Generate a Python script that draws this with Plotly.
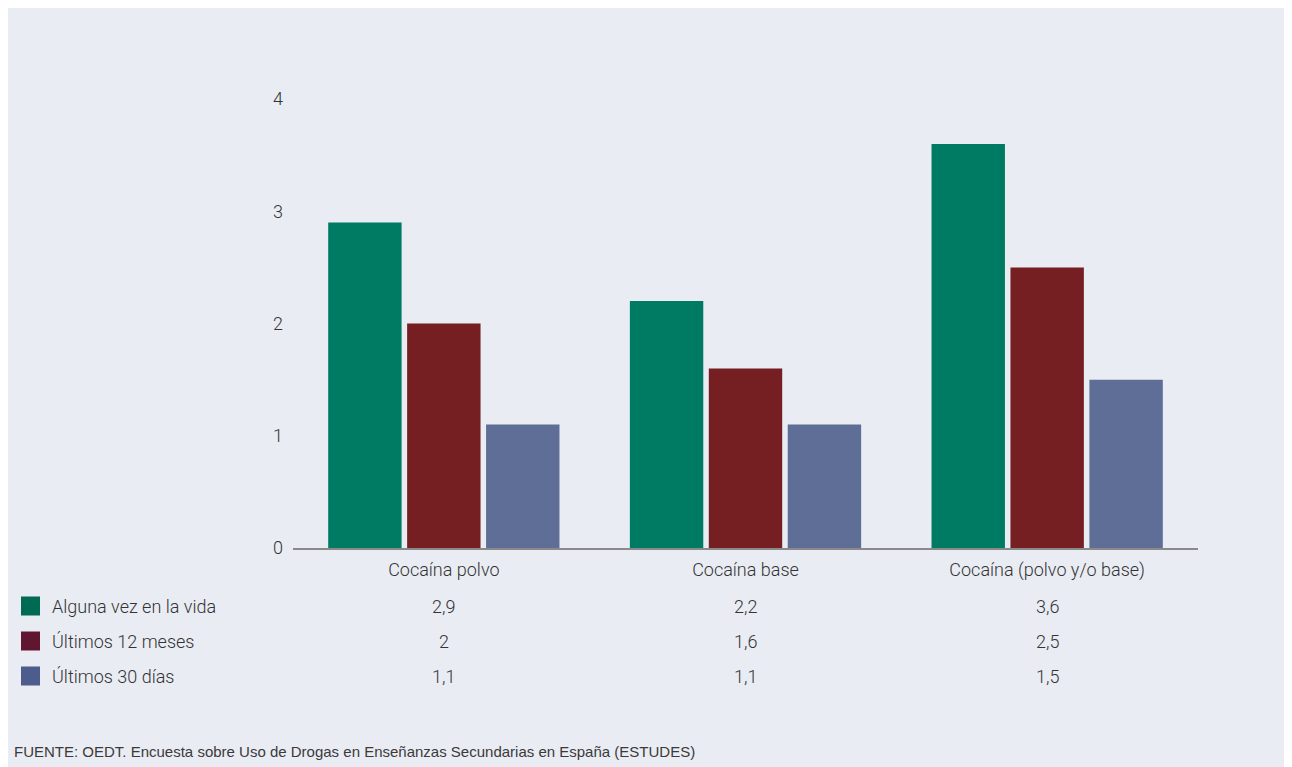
import plotly.graph_objects as go

categories = ["Cocaína polvo", "Cocaína base", "Cocaína (polvo y/o base)"]
series_names = ["Alguna vez en la vida", "Últimos 12 meses", "Últimos 30 días"]
alguna_vez = [2.9, 2.2, 3.6]
ultimos_12 = [2.0, 1.6, 2.5]
ultimos_30 = [1.1, 1.1, 1.5]
y_ticks = [0, 1, 2, 3, 4]
source = "FUENTE: OEDT. Encuesta sobre Uso de Drogas en Enseñanzas Secundarias en España (ESTUDES)"

series_values = [alguna_vez, ultimos_12, ultimos_30]
bar_colors = ["#007b63", "#751f23", "#5e6e97"]
swatch_colors = ["#006a53", "#601630", "#4b5c8d"]

OFF = 8  # page body margin
W, H = 1292 - OFF, 767 - OFF
L, R, T, B = 293 - OFF, 1198 - OFF, 99 - OFF, 548 - OFF
FONT = "Roboto"
WEIGHT = 300
TXT = "#333333"
BG = "#e9ecf3"

fig = go.Figure()
for name, vals, col in zip(series_names, series_values, bar_colors):
    fig.add_trace(go.Bar(x=categories, y=vals, name=name, marker=dict(color=col, line=dict(width=0)),
                         showlegend=False, hoverinfo="x+y"))

def px2paper_x(px):
    return (px - OFF - L) / (R - L)

def px2paper_y(py):
    return (B - (py - OFF)) / (B - T)

shapes = [dict(type="rect", xref="paper", yref="paper", layer="below",
               x0=px2paper_x(0), x1=px2paper_x(1300), y0=px2paper_y(780), y1=px2paper_y(8),
               fillcolor=BG, line=dict(width=0))]
annotations = []
row_y = [606, 641, 676]

def fmt(v):
    return ("%g" % v).replace(".", ",")

def tfont(size):
    return dict(family=FONT, size=size, color=TXT, weight=WEIGHT)

for i, (name, vals) in enumerate(zip(series_names, series_values)):
    yy = row_y[i]
    shapes.append(dict(type="rect", xref="paper", yref="paper",
                       x0=px2paper_x(21), x1=px2paper_x(40),
                       y0=px2paper_y(yy + 9.5), y1=px2paper_y(yy - 9.5),
                       fillcolor=swatch_colors[i], line=dict(width=0)))
    annotations.append(dict(xref="paper", yref="paper", x=px2paper_x(50), y=px2paper_y(yy),
                            text=name, showarrow=False, xanchor="left", yanchor="middle",
                            font=tfont(18)))
    for c, v in zip(categories, vals):
        annotations.append(dict(xref="x", yref="paper", x=c, y=px2paper_y(yy),
                                text=fmt(v), showarrow=False, xanchor="center", yanchor="middle",
                                font=tfont(18)))

annotations.append(dict(xref="paper", yref="paper", x=px2paper_x(12), y=px2paper_y(751),
                        text=source, showarrow=False, xanchor="left", yanchor="middle",
                        font=dict(family="Liberation Sans", size=15, color="#3a3a3a")))

fig.update_layout(
    width=W, height=H,
    margin=dict(l=L, r=W - R, t=T, b=H - B, pad=0),
    paper_bgcolor="white", plot_bgcolor=BG,
    barmode="group", bargap=0.215, bargroupgap=0.07,
    shapes=shapes, annotations=annotations,
    font=tfont(18),
    xaxis=dict(showgrid=False, showline=True, linecolor="#8a8a8a", linewidth=1.5,
               ticks="", tickfont=tfont(18), ticklabelstandoff=5,
               range=[-0.5, 2.5]),
    yaxis=dict(range=[0, 4], tickvals=y_ticks, showgrid=False, zeroline=False, showline=False,
               ticks="", tickfont=tfont(18), ticklabelstandoff=9),
)

fig.write_html("out.html")
